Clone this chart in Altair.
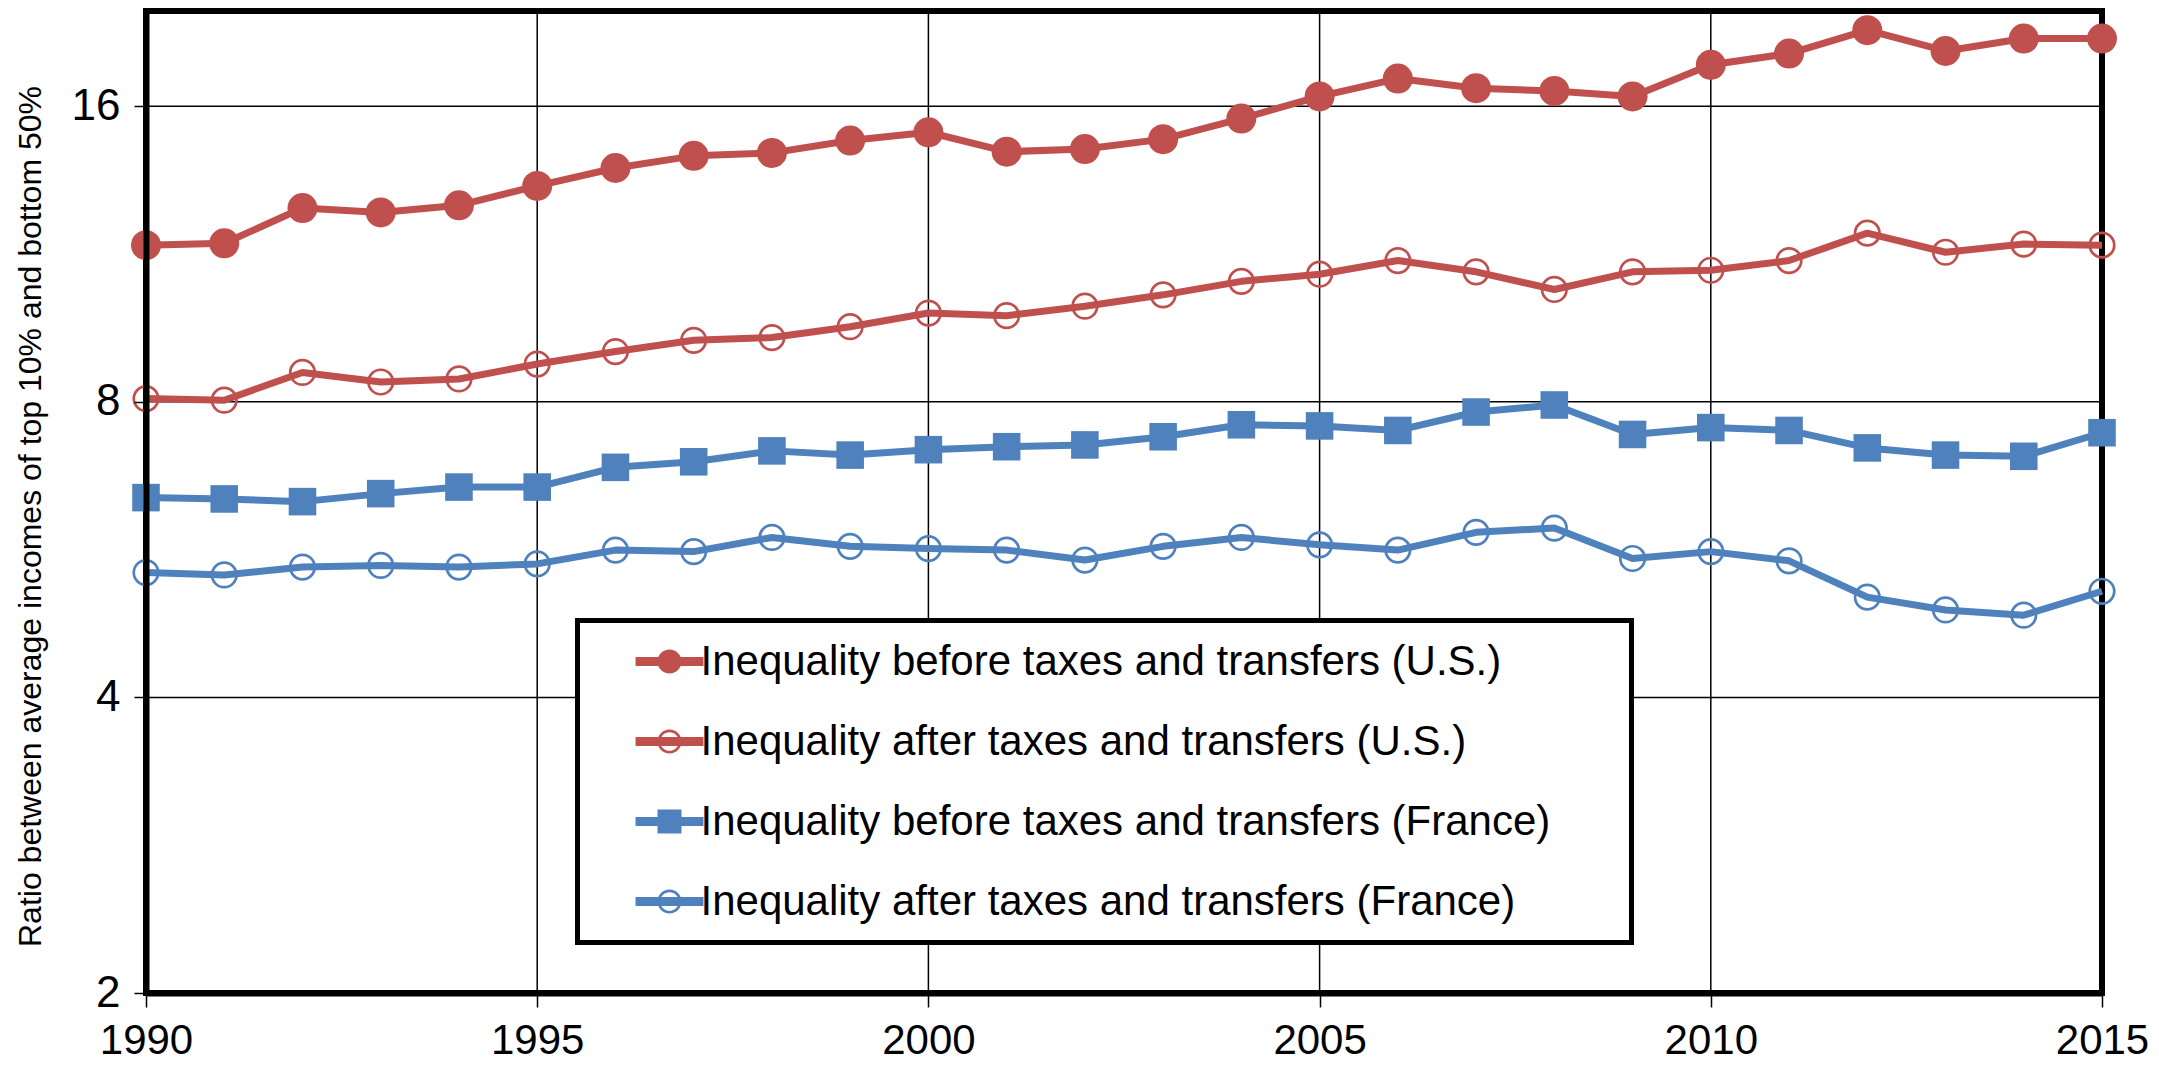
import altair as alt
import pandas as pd

years = list(range(1990, 2016))
us_before = [11.55, 11.6, 12.6, 12.47, 12.68, 13.27, 13.84, 14.24, 14.34, 14.76, 15.05, 14.38, 14.47,
             14.81, 15.54, 16.37, 17.07, 16.69, 16.58, 16.37, 17.63, 18.1, 19.12, 18.21, 18.75, 18.75]
us_after = [8.06, 8.03, 8.57, 8.38, 8.44, 8.74, 9.0, 9.24, 9.30, 9.54, 9.85, 9.79, 10.01,
            10.28, 10.61, 10.79, 11.14, 10.85, 10.41, 10.85, 10.89, 11.14, 11.88, 11.36, 11.58, 11.55]
fr_before = [6.39, 6.37, 6.33, 6.45, 6.55, 6.55, 6.86, 6.95, 7.13, 7.06, 7.15, 7.20, 7.23,
             7.37, 7.58, 7.56, 7.48, 7.81, 7.94, 7.41, 7.53, 7.48, 7.18, 7.06, 7.04, 7.44]
fr_after = [5.36, 5.33, 5.43, 5.45, 5.43, 5.47, 5.65, 5.63, 5.82, 5.70, 5.67, 5.65, 5.52,
            5.70, 5.82, 5.72, 5.65, 5.89, 5.95, 5.54, 5.63, 5.51, 5.06, 4.91, 4.85, 5.13]

series = [
    "Inequality before taxes and transfers (U.S.)",
    "Inequality after taxes and transfers (U.S.)",
    "Inequality before taxes and transfers (France)",
    "Inequality after taxes and transfers (France)",
]
colors = ["#C0504D", "#C0504D", "#4F81BD", "#4F81BD"]

x_ticks = [1990, 1995, 2000, 2005, 2010, 2015]
y_ticks = [2, 4, 8, 16]
x_grid = [1995, 2000, 2005, 2010]
y_grid = [4, 8, 16]
y_title = "Ratio between average incomes of top 10% and bottom 50%"

rows = []
for name, vals in zip(series, [us_before, us_after, fr_before, fr_after]):
    for yr, v in zip(years, vals):
        rows.append({"year": yr, "value": v, "series": name})
df = pd.DataFrame(rows)

FONT = "Liberation Sans"

x_enc = alt.X("year:Q",
              scale=alt.Scale(domain=[1990, 2015], nice=False, zero=False),
              axis=alt.Axis(values=x_ticks, format="d", grid=False, domain=True,
                            domainColor="black", domainWidth=6, ticks=True, tickColor="black",
                            tickSize=14, tickWidth=1.5, labelFontSize=42, labelFont=FONT,
                            labelColor="black", labelPadding=13, labelFlush=False,
                            labelOverlap=False, title=None, zindex=1))
y_enc = alt.Y("value:Q",
              scale=alt.Scale(type="log", base=2, domain=[2, 20], nice=False),
              axis=alt.Axis(values=y_ticks, format="d", grid=False, domain=True,
                            domainColor="black", domainWidth=6, ticks=True, tickColor="black",
                            tickSize=12, tickWidth=1.5, labelFontSize=44, labelFont=FONT,
                            labelColor="black", labelPadding=14, labelOverlap=False,
                            title=y_title, titleFontSize=32, titleFont=FONT,
                            titleFontWeight="normal", titleColor="black", titleX=-116,
                            titleY=505, titleAngle=270, titleBaseline="middle",
                            titleAlign="center", zindex=1))

color_scale = alt.Scale(domain=series, range=colors)

base = alt.Chart(df)

gx = alt.Chart(pd.DataFrame({"year": x_grid})).mark_rule(color="black", strokeWidth=1.5).encode(
    x=alt.X("year:Q"))
gy = alt.Chart(pd.DataFrame({"value": y_grid})).mark_rule(color="black", strokeWidth=1.5).encode(
    y=alt.Y("value:Q"))

lines = base.mark_line(strokeWidth=7, strokeJoin="round", strokeCap="butt").encode(
    x=x_enc, y=y_enc,
    color=alt.Color("series:N", scale=color_scale, legend=None),
    order="year:Q")

pt_us_before = base.transform_filter(alt.datum.series == series[0]).mark_point(
    filled=True, opacity=1, shape="circle", size=900, strokeWidth=0).encode(
    x="year:Q", y="value:Q", color=alt.Color("series:N", scale=color_scale, legend=None))
pt_fr_before = base.transform_filter(alt.datum.series == series[2]).mark_point(
    filled=True, opacity=1, shape="square", size=760, strokeWidth=0).encode(
    x="year:Q", y="value:Q", color=alt.Color("series:N", scale=color_scale, legend=None))
pt_after = base.transform_filter(
    alt.FieldOneOfPredicate(field="series", oneOf=[series[1], series[3]])).mark_point(
    filled=False, opacity=1, shape="circle", size=600, strokeWidth=2.7).encode(
    x="year:Q", y="value:Q", color=alt.Color("series:N", scale=color_scale, legend=None))

bar = "M-2.83,-0.375L2.83,-0.375L2.83,0.375L-2.83,0.375Z"
disc = "M-1,0A1,1 0 1,1 1,0A1,1 0 1,1 -1,0Z"
hole = "M-0.78,0A0.78,0.78 0 1,0 0.78,0A0.78,0.78 0 1,0 -0.78,0Z"
sq = "M-1,-1L1,-1L1,1L-1,1Z"
legend_paths = [bar + disc, bar + disc + hole, bar + sq, bar + disc + hole]

leg = alt.Legend(orient="none", legendX=431.5, legendY=609.5, title=".", titleOrient="right",
                 titlePadding=60, titleFontSize=2, titleOpacity=0, padding=20,
                 rowPadding=38, symbolSize=576, symbolOffset=51, labelOffset=10,
                 labelFontSize=42, labelFont=FONT, labelColor="black", labelLimit=3000,
                 fillColor="white", strokeColor="black", symbolStrokeWidth=0,
                 symbolOpacity=1)

legend_layer = base.transform_filter("datum.year < 0").transform_calculate(
    lg="datum.series").mark_point(filled=True, opacity=1).encode(
    x="year:Q", y="value:Q",
    color=alt.Color("lg:N", scale=alt.Scale(domain=series, range=colors), legend=leg),
    shape=alt.Shape("lg:N", scale=alt.Scale(domain=series, range=legend_paths), legend=leg))

chart = alt.layer(gx, gy, lines, pt_us_before, pt_fr_before, pt_after, legend_layer).resolve_scale(
    color="independent", shape="independent").properties(
    width=1956, height=982,
    autosize=alt.AutoSizeParams(type="none"),
    padding={"left": 138, "top": 3, "right": 49, "bottom": 76},
    background="white",
).configure_view(stroke="black", strokeWidth=6).configure_legend(strokeWidth=5)

chart.save("out.html", embed_options={"renderer": "svg", "actions": False})
